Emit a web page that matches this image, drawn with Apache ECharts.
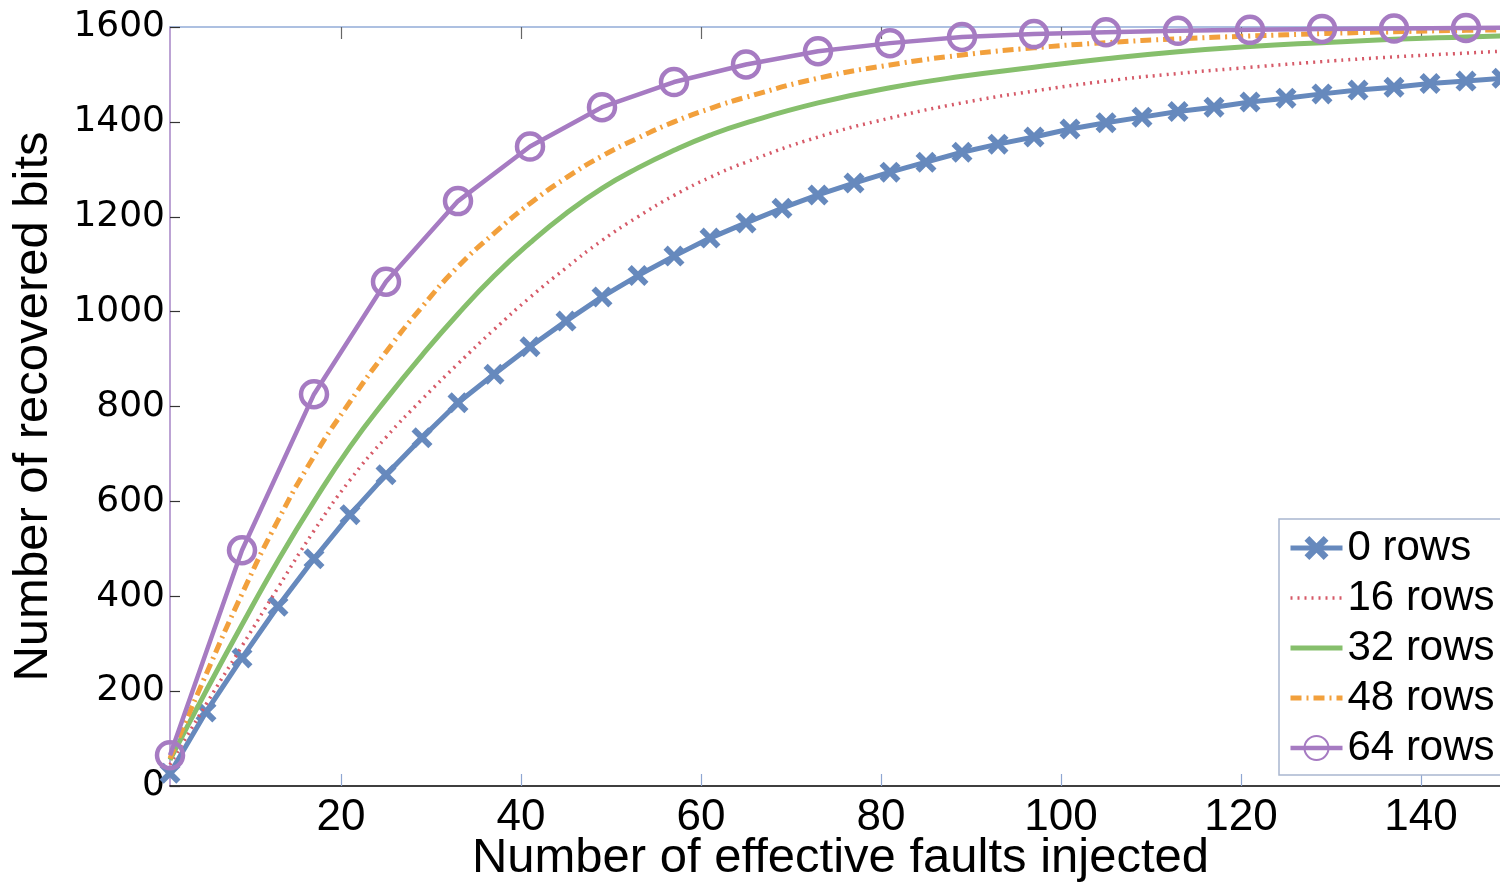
<!DOCTYPE html>
<html>
<head>
<meta charset="utf-8">
<script src="https://cdn.jsdelivr.net/npm/echarts@6/dist/echarts.min.js"></script>
<style>
html,body{margin:0;padding:0;background:#fff;}
#c{width:1500px;height:884px;}
</style>
</head>
<body>
<div id="c"></div>
<script>
// ---- data ----
const seriesNames = ['0 rows', '16 rows', '32 rows', '48 rows', '64 rows'];
const xTickValues = [20, 40, 60, 80, 100, 120, 140];

const x0rows = [1,5,9,13,17,21,25,29,33,37,41,45,49,53,57,61,65,69,73,77,81,85,89,93,97,101,105,109,113,117,121,125,129,133,137,141,145,149];
const y0rows = [27,156,270,379,479,572,656,734,808,868,926,980,1031,1076,1117,1155,1187,1218,1246,1271,1294,1315,1336,1353,1368,1385,1398,1410,1422,1431,1442,1450,1459,1467,1473,1481,1486,1492];

const xCurves = [1,5,9,13,17,21,25,29,33,37,41,45,49,53,57,61,65,73,81,89,97,105,113,121,129,137,145,150];
const y16rows = [45,172,295,418,538,645,735,815,890,962,1030,1092,1150,1200,1245,1283,1315,1368,1408,1440,1465,1486,1502,1515,1527,1537,1545,1550];
const y32rows = [55,200,340,475,600,715,815,908,995,1075,1145,1207,1260,1303,1340,1372,1398,1440,1472,1496,1515,1533,1548,1559,1567,1574,1579,1582];
const y48rows = [58,235,405,560,695,810,915,1010,1095,1165,1228,1282,1328,1366,1400,1428,1452,1492,1520,1541,1556,1567,1575,1581,1586,1590,1593,1594];

const x64rows = [1,9,17,25,33,41,49,57,65,73,81,89,97,105,113,121,129,137,145,153];
const y64rows = [65,497,826,1063,1233,1348,1431,1484,1521,1549,1566,1579,1585,1589,1592,1594,1596,1597,1598,1599];

function zip(xs, ys){ return xs.map((x,i)=>[x, ys[i]]); }

const xMark = 'path://M0,2 L2,0 L5,3 L8,0 L10,2 L7,5 L10,8 L8,10 L5,7 L2,10 L0,8 L3,5 Z';
const colors = ['#6689bd', '#d65a68', '#86bf6c', '#f2a03c', '#a67bc2'];

const chart = echarts.init(document.getElementById('c'), null, {renderer:'canvas'});
const option = {
  animation: false,
  backgroundColor: '#fff',
  grid: {left: 170, right: -11, top: 27, bottom: 98, containLabel: false, outerBoundsMode: 'none'},
  xAxis: [{
    type: 'value', min: 1, max: 150, position: 'bottom',
    name: 'Number of effective faults injected', nameLocation: 'middle', nameGap: 48, nameMoveOverlap: false,
    nameTextStyle: {fontFamily: 'Liberation Sans', fontSize: 49, color: '#000'},
    axisLine: {show: true, lineStyle: {color: '#000', width: 1.5}},
    axisTick: {show: true, inside: true, length: 12, customValues: xTickValues, lineStyle: {color: '#8ea6d2', width: 1.2}},
    axisLabel: {show: true, customValues: xTickValues, margin: 10, fontFamily: "'Liberation Sans Narrow','Liberation Sans'", fontSize: 44, color: '#000'},
    splitLine: {show: false}
  }, {
    type: 'value', min: 1, max: 150, position: 'top',
    axisLine: {show: true, lineStyle: {color: '#93acd8', width: 1.5}},
    axisTick: {show: true, inside: true, length: 12, customValues: xTickValues, lineStyle: {color: '#666', width: 1.2}},
    axisLabel: {show: false},
    splitLine: {show: false}
  }],
  yAxis: [{
    type: 'value', min: 0, max: 1600, interval: 200,
    name: 'Number of recovered bits', nameLocation: 'middle', nameGap: 112, nameRotate: 90, nameMoveOverlap: false,
    nameTextStyle: {fontFamily: 'Liberation Sans', fontSize: 49, color: '#000'},
    axisLine: {show: true, lineStyle: {color: '#a684c6', width: 1.5}},
    axisTick: {show: true, inside: true, length: 10, lineStyle: {color: '#333', width: 1.2}},
    axisLabel: {margin: 5, fontFamily: 'DejaVu Sans', fontSize: 36, color: '#000', formatter: v => String(v)},
    splitLine: {show: false}
  }],
  legend: {
    orient: 'vertical', left: 1279, top: 519,
    data: [
      {name: seriesNames[0]},
      {name: seriesNames[1], itemStyle: {opacity: 0}},
      {name: seriesNames[2], itemStyle: {opacity: 0}},
      {name: seriesNames[3], itemStyle: {opacity: 0}},
      {name: seriesNames[4]}
    ],
    backgroundColor: '#fff',
    borderColor: '#a9b7cf', borderWidth: 1.5, borderRadius: 0,
    padding: [4, 40, 2, 9],
    itemWidth: 52, itemHeight: 30, itemGap: 0,
    lineStyle: {width: 'inherit', type: 'inherit'},
    textStyle: {fontFamily: 'Liberation Sans', fontSize: 42, color: '#000', lineHeight: 50}
  },
  series: [
    {
      name: seriesNames[0], type: 'line', data: zip(x0rows, y0rows),
      symbol: xMark, symbolSize: 21, showSymbol: true,
      lineStyle: {color: colors[0], width: 5},
      itemStyle: {color: colors[0], borderWidth: 0},
      z: 2
    },
    {
      name: seriesNames[1], type: 'line', data: zip(xCurves, y16rows),
      symbol: 'none', smooth: 0.5,
      lineStyle: {color: colors[1], width: 3.5, type: [2, 5]},
      itemStyle: {color: colors[1]},
      z: 3
    },
    {
      name: seriesNames[2], type: 'line', data: zip(xCurves, y32rows),
      symbol: 'none', smooth: 0.5,
      lineStyle: {color: colors[2], width: 5},
      itemStyle: {color: colors[2]},
      z: 4
    },
    {
      name: seriesNames[3], type: 'line', data: zip(xCurves, y48rows),
      symbol: 'none', smooth: 0.5,
      lineStyle: {color: colors[3], width: 5, type: [11, 5, 2, 5]},
      itemStyle: {color: colors[3]},
      z: 5
    },
    {
      name: seriesNames[4], type: 'line', data: zip(x64rows, y64rows),
      symbol: 'circle', symbolSize: 26, showSymbol: true,
      lineStyle: {color: colors[4], width: 4.5},
      itemStyle: {color: 'rgba(255,255,255,0)', borderColor: colors[4], borderWidth: 4.5},
      z: 6
    }
  ]
};
chart.setOption(option);
</script>
</body>
</html>
